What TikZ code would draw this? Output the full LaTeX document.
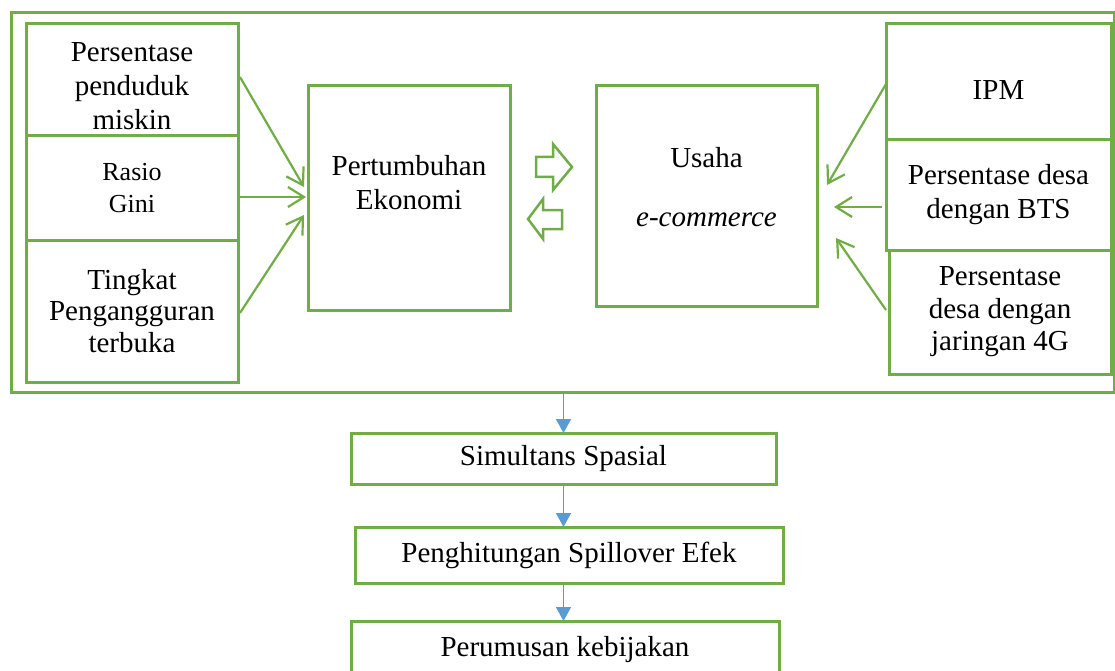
\documentclass[tikz,border=0pt]{standalone}
\usepackage{fontspec}
\setmainfont{Liberation Serif}
\usetikzlibrary{positioning, calc, arrows.meta}

\definecolor{boxgreen}{HTML}{70AD47}
\definecolor{flowblue}{HTML}{5B9BD5}

\tikzset{
  box/.style={draw=boxgreen, line width=3pt, align=center, inner sep=0pt, outer sep=0pt},
  bigtext/.style={font=\fontsize{29}{34}\selectfont},
  midtext/.style={font=\fontsize{26}{32}\selectfont},
  inarrow/.style={draw=boxgreen, line width=2.2pt, -{Straight Barb[length=16pt,width=20pt]}},
  blockarrow/.style={draw=boxgreen, line width=2.5pt, line join=miter},
  flow/.style={draw=flowblue, line width=1.5pt, -{Triangle[length=14pt,width=15pt]}},
}

\begin{document}
\begin{tikzpicture}[x=1pt, y=-1pt]
  % Canvas
  \useasboundingbox (0,0) rectangle (1115,671);
  \clip (0,0) rectangle (1115,671);

  % Outer frame
  \node[box, minimum width=1103pt, minimum height=379pt] (frame) at (562.5,202.5) {};

  % Left column
  \node[box, minimum width=212pt, minimum height=112pt] (pm) at (132,80) {};
  \node[bigtext, align=center] (pm-txt) at ($(pm)+(0,6)$) {Persentase\\penduduk\\miskin};
  \node[box, midtext, minimum width=212pt, minimum height=104pt, below=0pt of pm] (rg) {Rasio\\Gini};
  \node[box, font=\fontsize{29}{31.5}\selectfont, minimum width=212pt, minimum height=142pt, below=0pt of rg] (tp) {Tingkat\\Pengangguran\\terbuka};

  % Middle boxes
  \node[box, minimum width=202pt, minimum height=224pt] (pe) at (409,198) {};
  \node[bigtext, align=center] (pe-txt) at ($(pe)+(0,-15)$) {Pertumbuhan\\Ekonomi};
  \node[box, minimum width=221pt, minimum height=220pt] (us) at (706.5,196) {};
  \node[bigtext, align=center] (us-txt) at ($(us)+(0,-8.5)$) {Usaha\\[25pt]\textit{e-commerce}};

  % Right column
  \node[box, minimum width=225pt, minimum height=116pt] (ipm) at (998.5,82) {};
  \node[bigtext] (ipm-txt) at ($(ipm)+(0,8)$) {IPM};
  \node[box, bigtext, minimum width=225pt, minimum height=110pt, below=0pt of ipm] (bts) {Persentase desa\\dengan BTS};
  \node[box, font=\fontsize{29}{32.5}\selectfont, minimum width=222pt, minimum height=124pt] (j4g) at (1000,312) {Persentase\\desa dengan\\jaringan 4G};

  % Arrows into Pertumbuhan Ekonomi
  \coordinate (pe-in1) at ($(pe.west)+(-4,-11)$);
  \coordinate (pe-in2) at ($(pe.west)+(-2,-1)$);
  \coordinate (pe-in3) at ($(pe.west)+(-4,17)$);
  \draw[inarrow] ($(pm.east)+(2,-3)$) -- (pe-in1);
  \draw[inarrow] (rg.east |- pe-in2) -- (pe-in2);
  \draw[inarrow] ($(tp.east)+(2,2)$) -- (pe-in3);

  % Arrows into Usaha e-commerce
  \coordinate (us-in1) at ($(us.east)+(10,-11)$);
  \coordinate (us-in2) at ($(us.east)+(17,11)$);
  \coordinate (us-in3) at ($(us.east)+(19,42)$);
  \draw[inarrow] ($(ipm.west)+(0,2)$) -- (us-in1);
  \draw[inarrow] ($(bts.west |- us-in2)+(-4,0)$) -- (us-in2);
  \draw[inarrow] ($(j4g.west)+(-3,-2)$) -- (us-in3);

  % Two-way block arrows
  \draw[blockarrow] (536,157) -- (553,157) -- (553,144) -- (572,167)
    -- (553,190) -- (553,177) -- (536,177) -- cycle;
  \draw[blockarrow] (528,219) -- (543,199) -- (543,210) -- (562,210)
    -- (562,229) -- (543,229) -- (543,239) -- cycle;

  % Lower flow
  \node[box, bigtext, minimum width=425pt, minimum height=51pt] (ss) at (563.5,458.5) {Simultans Spasial};
  \node[box, bigtext, minimum width=428pt, minimum height=56pt] (ph) at (569,555) {Penghitungan Spillover Efek};
  \node[box, bigtext, minimum width=428pt, minimum height=58pt] (pk) at (565,650) {Perumusan kebijakan};

  \draw[flow] (ss.north |- frame.south) -- (ss.north);
  \draw[flow] (ss.south) -- (ss.south |- ph.north);
  \draw[flow] (ss.south |- ph.south) -- (ss.south |- pk.north);
\end{tikzpicture}
\end{document}
